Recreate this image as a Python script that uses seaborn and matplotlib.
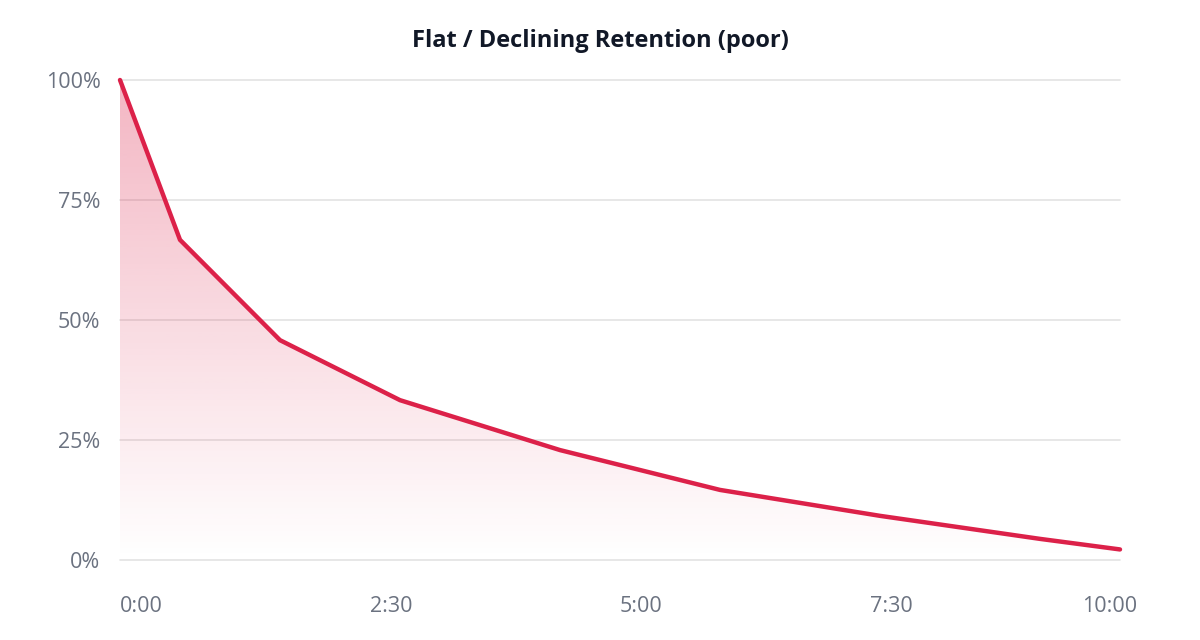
import numpy as np
import pandas as pd
import matplotlib
matplotlib.use("Agg")
import matplotlib.pyplot as plt
import matplotlib.transforms as mtransforms
import seaborn as sns

# ---- data ----
seconds = [0, 36, 96, 168, 264, 360, 456, 552, 600]
retention = [100, 66.7, 45.8, 33.3, 22.9, 14.6, 9.2, 4.4, 2.2]
x_ticks = [0, 150, 300, 450, 600]
x_tick_labels = ["0:00", "2:30", "5:00", "7:30", "10:00"]
y_ticks = [0, 25, 50, 75, 100]
y_tick_labels = ["0%", "25%", "50%", "75%", "100%"]
title = "Flat / Declining Retention (poor)"

LINE = "#dc2149"
GRID = "#e3e3e3"
TICK = "#6b7280"
TITLE = "#111827"

sns.set_theme(style="white")
plt.rcParams["font.family"] = ["Open Sans", "DejaVu Sans"]

df = pd.DataFrame({"t": seconds, "r": retention})

fig = plt.figure(figsize=(12, 6.4), dpi=100)
ax = fig.add_axes([120 / 1200, 80 / 640, 1000 / 1200, 480 / 640])

ax.set_xlim(0, 600)
ax.set_ylim(0, 100)

# grid lines
for yv in y_ticks:
    ax.axhline(yv, color=GRID, lw=1.2, zorder=0, clip_on=False)

# gradient fill under the curve
poly = ax.fill_between(df["t"], df["r"], 0, color="none", lw=0)
rgb = matplotlib.colors.to_rgb(LINE)
n = 256
grad = np.zeros((n, 1, 4))
grad[:, 0, 0] = rgb[0]
grad[:, 0, 1] = rgb[1]
grad[:, 0, 2] = rgb[2]
grad[:, 0, 3] = np.linspace(0.33, 0.0, n)
im = ax.imshow(grad, extent=[0, 600, 0, 100], origin="upper", aspect="auto",
               zorder=1, interpolation="bilinear")
path = poly.get_paths()[0]
im.set_clip_path(path, transform=ax.transData)

sns.lineplot(data=df, x="t", y="r", ax=ax, color=LINE, lw=3.2, zorder=3,
             clip_on=False, solid_joinstyle="miter")

ax.set_xticks(x_ticks)
ax.set_xticklabels(x_tick_labels)
ax.set_yticks(y_ticks)
ax.set_yticklabels(y_tick_labels)
ax.set_xlabel("")
ax.set_ylabel("")
ax.tick_params(axis="both", length=0, labelsize=15.5, colors=TICK)
ax.tick_params(axis="x", pad=26)
ax.tick_params(axis="y", pad=14)
for lab in ax.get_xticklabels()[:-1]:
    lab.set_ha("left")
last = ax.get_xticklabels()[-1]
last.set_ha("center")
last.set_transform(last.get_transform() + mtransforms.ScaledTranslation(-10 / 100, 0, fig.dpi_scale_trans))

for s in ax.spines.values():
    s.set_visible(False)
ax.grid(False)

fig.text(0.5, 1 - 41 / 640, title, ha="center", va="center", fontsize=17,
         fontweight="bold", color=TITLE)

fig.savefig("out.png", dpi=100, facecolor="white")
